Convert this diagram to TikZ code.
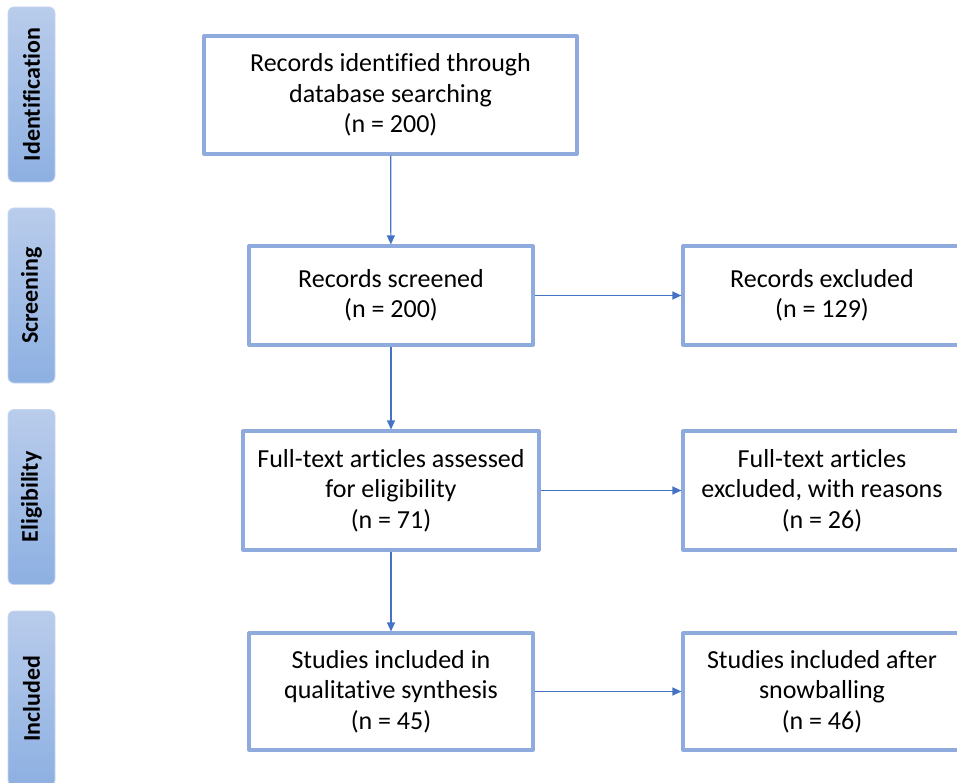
\documentclass[tikz,border=0pt]{standalone}
\usepackage{fontspec}
\setmainfont[Ligatures=NoCommon]{Carlito}
\usetikzlibrary{arrows.meta}
\definecolor{boxline}{HTML}{8FAADC}
\definecolor{arrline}{HTML}{4472C4}
\definecolor{phasetop}{HTML}{B9CCEB}
\definecolor{phasebot}{HTML}{8DB0E2}
\begin{document}
\begin{tikzpicture}[x=1pt, y=-1pt, line join=round,
		box/.style={draw=boxline, line width=3.2pt, fill=white, align=center, inner sep=0pt, font=\fontsize{26}{30.5}\selectfont},
		phase/.style={draw=phasetop!80!white, line width=0.8pt, rounded corners=6pt, top color=phasetop, bottom color=phasebot, minimum width=175pt, minimum height=47pt, rotate=90, font=\fontsize{24}{28}\selectfont\bfseries},
		arr/.style={draw=arrline, line width=1.2pt, -{Triangle[length=9pt,width=8pt]}}]
			\useasboundingbox (0,0) rectangle (957,783);
			% phase labels on the left
			\foreach \y/\lab/\nm in {94.5/Identification/pid, 295.5/Screening/psc, 497/Eligibility/pel, 698.5/Included/pin}
				\node[phase] (\nm) at (31.5,\y) {\lab};
			% main column
			\node[box, minimum width=373pt, minimum height=118pt] (ident) at (390.5,95) {Records identified through\\database searching\\(n = 200)};
			\node[box, minimum width=284pt, minimum height=99pt] (screen) at (391,295.5) {Records screened\\(n = 200)};
			\node[box, minimum width=296pt, minimum height=119pt] (elig) at (391,490.5) {Full-text articles assessed\\for eligibility\\(n = 71)};
			\node[box, minimum width=284pt, minimum height=117pt] (incl) at (391,691.5) {Studies included in\\qualitative synthesis\\(n = 45)};
			% right column
			\node[box, minimum width=278pt, minimum height=99pt] (excl) at (822,295.5) {Records excluded\\(n = 129)};
			\node[box, minimum width=278pt, minimum height=119pt] (ftexcl) at (822,490.5) {Full-text articles\\excluded, with reasons\\(n = 26)};
			\node[box, minimum width=278pt, minimum height=117pt] (snow) at (822,691.5) {Studies included after\\snowballing\\(n = 46)};
			% connectors
			\draw[arr] (ident) -- (screen);
			\draw[arr] (screen) -- (elig);
			\draw[arr] (elig) -- (incl);
			\draw[arr] (screen) -- (excl);
			\draw[arr] (elig) -- (ftexcl);
			\draw[arr] (incl) -- (snow);
		\end{tikzpicture}
\end{document}
